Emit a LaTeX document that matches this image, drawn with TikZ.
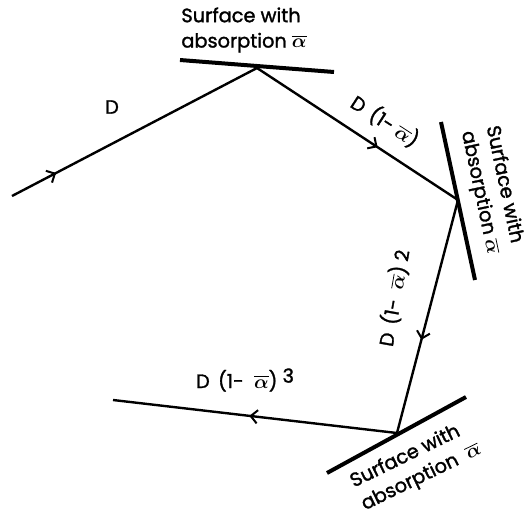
\documentclass[tikz,border=0pt]{standalone}
\usepackage{amsmath}
\usepackage{fontspec}
\setmainfont{Poppins}[FakeBold=1.5]
\usetikzlibrary{arrows.meta,decorations.markings}

\begin{document}
\begin{tikzpicture}[x=0.75pt,y=-0.75pt,font=\fontsize{14.5}{19}\selectfont,
  ray/.style={line width=1.8pt},
  wall/.style={line width=3pt},
  lbl/.style={align=left,inner sep=1pt},
  midarrow/.style={postaction={decorate},decoration={markings,
    mark=at position #1 with {\arrow{Straight Barb[length=5pt,width=10pt,line width=1.5pt]}}}}]
  \useasboundingbox (0,0) rectangle (525,515);
  % ray corners
  \coordinate (src) at (12,196);
  \coordinate (p1) at (257,68);
  \coordinate (p2) at (458,200);
  \coordinate (p3) at (397,433);
  \coordinate (out) at (113,400);
  % surfaces
  \coordinate (s1a) at (180,60);  \coordinate (s1b) at (334,72);
  \coordinate (s2a) at (441,122); \coordinate (s2b) at (475,280);
  \coordinate (s3a) at (327,473); \coordinate (s3b) at (466,397);
  \draw[wall] (s1a)--(s1b);
  \draw[wall] (s2a)--(s2b);
  \draw[wall] (s3a)--(s3b);
  % the ray
  \draw[ray,midarrow=0.18] (src)--(p1);
  \draw[ray,midarrow=0.6] (p1)--(p2);
  \draw[ray,midarrow=0.6] (p2)--(p3);
  \draw[ray,midarrow=0.52] (p3)--(out);
  % labels
  \node[lbl] (t1) at (244,30) {Surface with\\absorption $\boldsymbol{\overline{\alpha}}$};
  \node[lbl,rotate=-78] (t2) at (492,190) {Surface with\\absorption $\boldsymbol{\overline{\alpha}}$};
  \node[lbl,rotate=26] (t3) at (416,466) {Surface with\\absorption \ $\boldsymbol{\overline{\alpha}}$};
  \node (d0) at (112,107) {D};
  \node[rotate=-33] (d1) at (385,121) {D\, (1- $\boldsymbol{\overline{\alpha}}$)};
  \node[rotate=80] (d2) at (394,298) {D\, (1- \ $\boldsymbol{\overline{\alpha}}$) 2};
  \node (d3) at (245,380) {D\, (1- \ $\boldsymbol{\overline{\alpha}}$) \raisebox{4pt}{3}};
\end{tikzpicture}
\end{document}
